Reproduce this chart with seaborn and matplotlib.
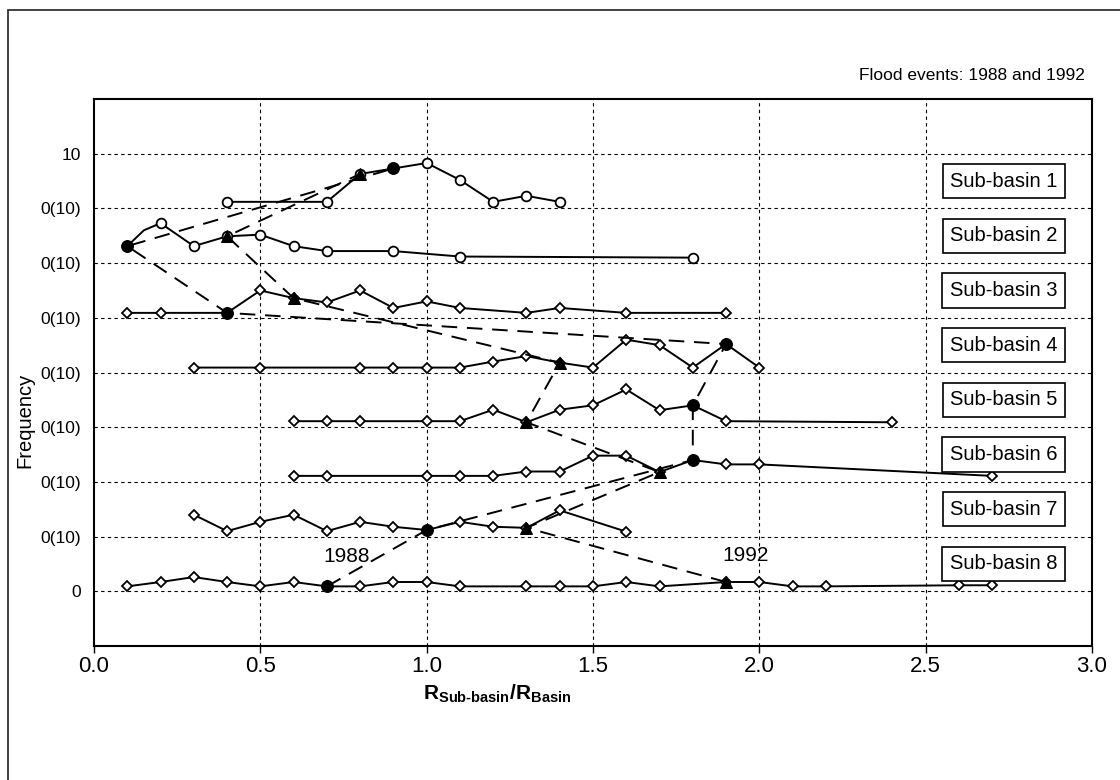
import matplotlib
matplotlib.use("Agg")
import matplotlib.pyplot as plt
import seaborn as sns
from matplotlib.patches import Rectangle

sns.set_theme(style="white")
plt.rcParams['font.family'] = ['Liberation Sans', 'DejaVu Sans']
plt.rcParams['mathtext.fontset'] = 'custom'
plt.rcParams['mathtext.rm'] = 'Liberation Sans:bold'
plt.rcParams['mathtext.bf'] = 'Liberation Sans:bold'
plt.rcParams['mathtext.it'] = 'Liberation Sans:bold'

# ---------------- data (x = R_sub-basin / R_basin, y = frequency within row) ----------------
sb1_x = [0.4, 0.7, 0.8, 0.9, 1.0, 1.1, 1.2, 1.3, 1.4]
sb1_y = [0.12, 0.12, 0.63, 0.73, 0.83, 0.52, 0.12, 0.23, 0.12]

sb2_x = [0.1, 0.15, 0.2, 0.3, 0.4, 0.5, 0.6, 0.7, 0.9, 1.1, 1.8]
sb2_y = [0.31, 0.60, 0.73, 0.31, 0.49, 0.52, 0.31, 0.22, 0.22, 0.12, 0.10]

sb3_x = [0.1, 0.2, 0.4, 0.5, 0.6, 0.7, 0.8, 0.9, 1.0, 1.1, 1.3, 1.4, 1.6, 1.9]
sb3_y = [0.09, 0.09, 0.09, 0.50, 0.36, 0.28, 0.50, 0.18, 0.30, 0.18, 0.09, 0.18, 0.09, 0.09]

sb4_x = [0.3, 0.5, 0.8, 0.9, 1.0, 1.1, 1.2, 1.3, 1.4, 1.5, 1.6, 1.7, 1.8, 1.9, 2.0]
sb4_y = [0.09, 0.09, 0.09, 0.09, 0.09, 0.09, 0.20, 0.30, 0.18, 0.09, 0.60, 0.50, 0.09, 0.52, 0.09]

sb5_x = [0.6, 0.7, 0.8, 1.0, 1.1, 1.2, 1.3, 1.4, 1.5, 1.6, 1.7, 1.8, 1.9, 2.4]
sb5_y = [0.11, 0.11, 0.11, 0.11, 0.11, 0.32, 0.09, 0.32, 0.40, 0.69, 0.31, 0.40, 0.11, 0.09]

sb6_x = [0.6, 0.7, 1.0, 1.1, 1.2, 1.3, 1.4, 1.5, 1.6, 1.7, 1.8, 1.9, 2.0, 2.7]
sb6_y = [0.11, 0.11, 0.11, 0.11, 0.11, 0.19, 0.19, 0.48, 0.48, 0.18, 0.40, 0.32, 0.32, 0.11]

sb7_x = [0.3, 0.4, 0.5, 0.6, 0.7, 0.8, 0.9, 1.0, 1.1, 1.2, 1.3, 1.4, 1.6]
sb7_y = [0.40, 0.10, 0.27, 0.40, 0.10, 0.27, 0.18, 0.12, 0.27, 0.18, 0.16, 0.48, 0.09]

sb8_x = [0.1, 0.2, 0.3, 0.4, 0.5, 0.6, 0.7, 0.8, 0.9, 1.0, 1.1, 1.3, 1.4, 1.5, 1.6,
         1.7, 1.9, 2.0, 2.1, 2.2, 2.6, 2.7]
sb8_y = [0.09, 0.17, 0.26, 0.17, 0.09, 0.17, 0.09, 0.09, 0.17, 0.17, 0.09, 0.09, 0.09,
         0.09, 0.17, 0.09, 0.17, 0.17, 0.09, 0.09, 0.11, 0.11]

subbasin_names = ["Sub-basin 1", "Sub-basin 2", "Sub-basin 3", "Sub-basin 4",
                  "Sub-basin 5", "Sub-basin 6", "Sub-basin 7", "Sub-basin 8"]

# flood events: which sub-basin and which x value the event passes through
event_1988_basin = [8, 7, 6, 5, 4, 3, 2, 1]
event_1988_x = [0.7, 1.0, 1.8, 1.8, 1.9, 0.4, 0.1, 0.9]
event_1992_basin = [8, 7, 6, 5, 4, 3, 2, 1]
event_1992_x = [1.9, 1.3, 1.7, 1.3, 1.4, 0.6, 0.4, 0.8]

ytick_labels = ["0", "0(10)", "0(10)", "0(10)", "0(10)", "0(10)", "0(10)", "0(10)", "10"]
xtick_values = [0.0, 0.5, 1.0, 1.5, 2.0, 2.5, 3.0]

series = [(sb1_x, sb1_y), (sb2_x, sb2_y), (sb3_x, sb3_y), (sb4_x, sb4_y),
          (sb5_x, sb5_y), (sb6_x, sb6_y), (sb7_x, sb7_y), (sb8_x, sb8_y)]


def row_base(k):
    return 8 - k


def lookup(k, xv):
    xs, ys = series[k - 1]
    i = min(range(len(xs)), key=lambda j: abs(xs[j] - xv))
    return ys[i] + row_base(k)


# ---------------- figure ----------------
fig = plt.figure(figsize=(11.2, 7.8), dpi=100)
fig.patch.set_facecolor("white")
ax = fig.add_axes([94 / 1120, 1 - 646 / 780, (1092 - 94) / 1120, (646 - 99) / 780])
ax.set_facecolor("white")

# outer frame
fig.patches.append(Rectangle((8 / 1120, -0.05), 1.2, 0.987 + 0.05, transform=fig.transFigure,
                             fill=False, ec="#333333", lw=1.3))

# grid
for gx in [0.5, 1.0, 1.5, 2.0, 2.5]:
    ax.axvline(gx, color="black", lw=0.8, ls=(0, (3, 3)), zorder=1)
for gy in range(0, 9):
    ax.axhline(gy, color="black", lw=0.8, ls=(0, (3, 3)), zorder=1)

# sub-basin series
for k, (xs, ys) in enumerate(series, start=1):
    yplot = [v + row_base(k) for v in ys]
    mk = "o" if k <= 2 else "D"
    ms = 7 if k <= 2 else 5.5
    kws = {}
    if k == 2:
        kws["markevery"] = [i for i in range(len(xs)) if i != 1]
    sns.lineplot(x=xs, y=yplot, ax=ax, color="black", lw=1.4, marker=mk, markersize=ms,
                 markerfacecolor="white", markeredgecolor="black", markeredgewidth=1.3,
                 sort=False, estimator=None, zorder=3, **kws)

# flood event paths
for basins, exs, mk, ms in [(event_1988_basin, event_1988_x, "o", 8.5),
                            (event_1992_basin, event_1992_x, "^", 9)]:
    eys = [lookup(k, xv) for k, xv in zip(basins, exs)]
    sns.lineplot(x=exs, y=eys, ax=ax, color="black", lw=1.4, marker=mk, markersize=ms,
                 markerfacecolor="black", markeredgecolor="black",
                 sort=False, estimator=None, zorder=4)
    ax.lines[-1].set_dashes([8, 5])

ax.text(0.76, 0.64, "1988", ha="center", va="center", fontsize=15, color="black")
ax.text(1.96, 0.66, "1992", ha="center", va="center", fontsize=15, color="black")

for k, name in enumerate(subbasin_names, start=1):
    ax.text(2.735, row_base(k) + 0.5, name, ha="center", va="center", fontsize=14.5,
            color="black", zorder=5,
            bbox=dict(boxstyle="square,pad=0.38", fc="white", ec="black", lw=1.2))

ax.set_xlim(0, 3)
ax.set_ylim(-1, 9)
ax.set_xticks(xtick_values)
ax.set_xticklabels([f"{v:.1f}" for v in xtick_values], fontsize=16)
ax.set_yticks(range(0, 9))
ax.set_yticklabels(ytick_labels, fontsize=12.5)
ax.tick_params(axis="x", direction="out", length=5, width=1, pad=2, colors="black", bottom=True)
ax.tick_params(axis="y", length=0, pad=9, colors="black")
for sp in ax.spines.values():
    sp.set_visible(True)
    sp.set_color("black")
    sp.set_linewidth(1.5)

fig.text(25 / 1120, 1 - 420 / 780, "Frequency", rotation=90, ha="center", va="center",
         fontsize=14.5, color="black")
fig.text(497 / 1120, 1 - 694 / 780,
         r"$\mathbf{R}_{\mathbf{Sub}\text{-}\mathbf{basin}}\mathbf{/R}_{\mathbf{Basin}}$",
         ha="center", va="center", fontsize=15, color="black")
fig.text(1085 / 1120, 1 - 75 / 780, "Flood events: 1988 and 1992", ha="right", va="center",
         fontsize=12.5, color="black")

fig.savefig("out.png", dpi=100, facecolor="white")
